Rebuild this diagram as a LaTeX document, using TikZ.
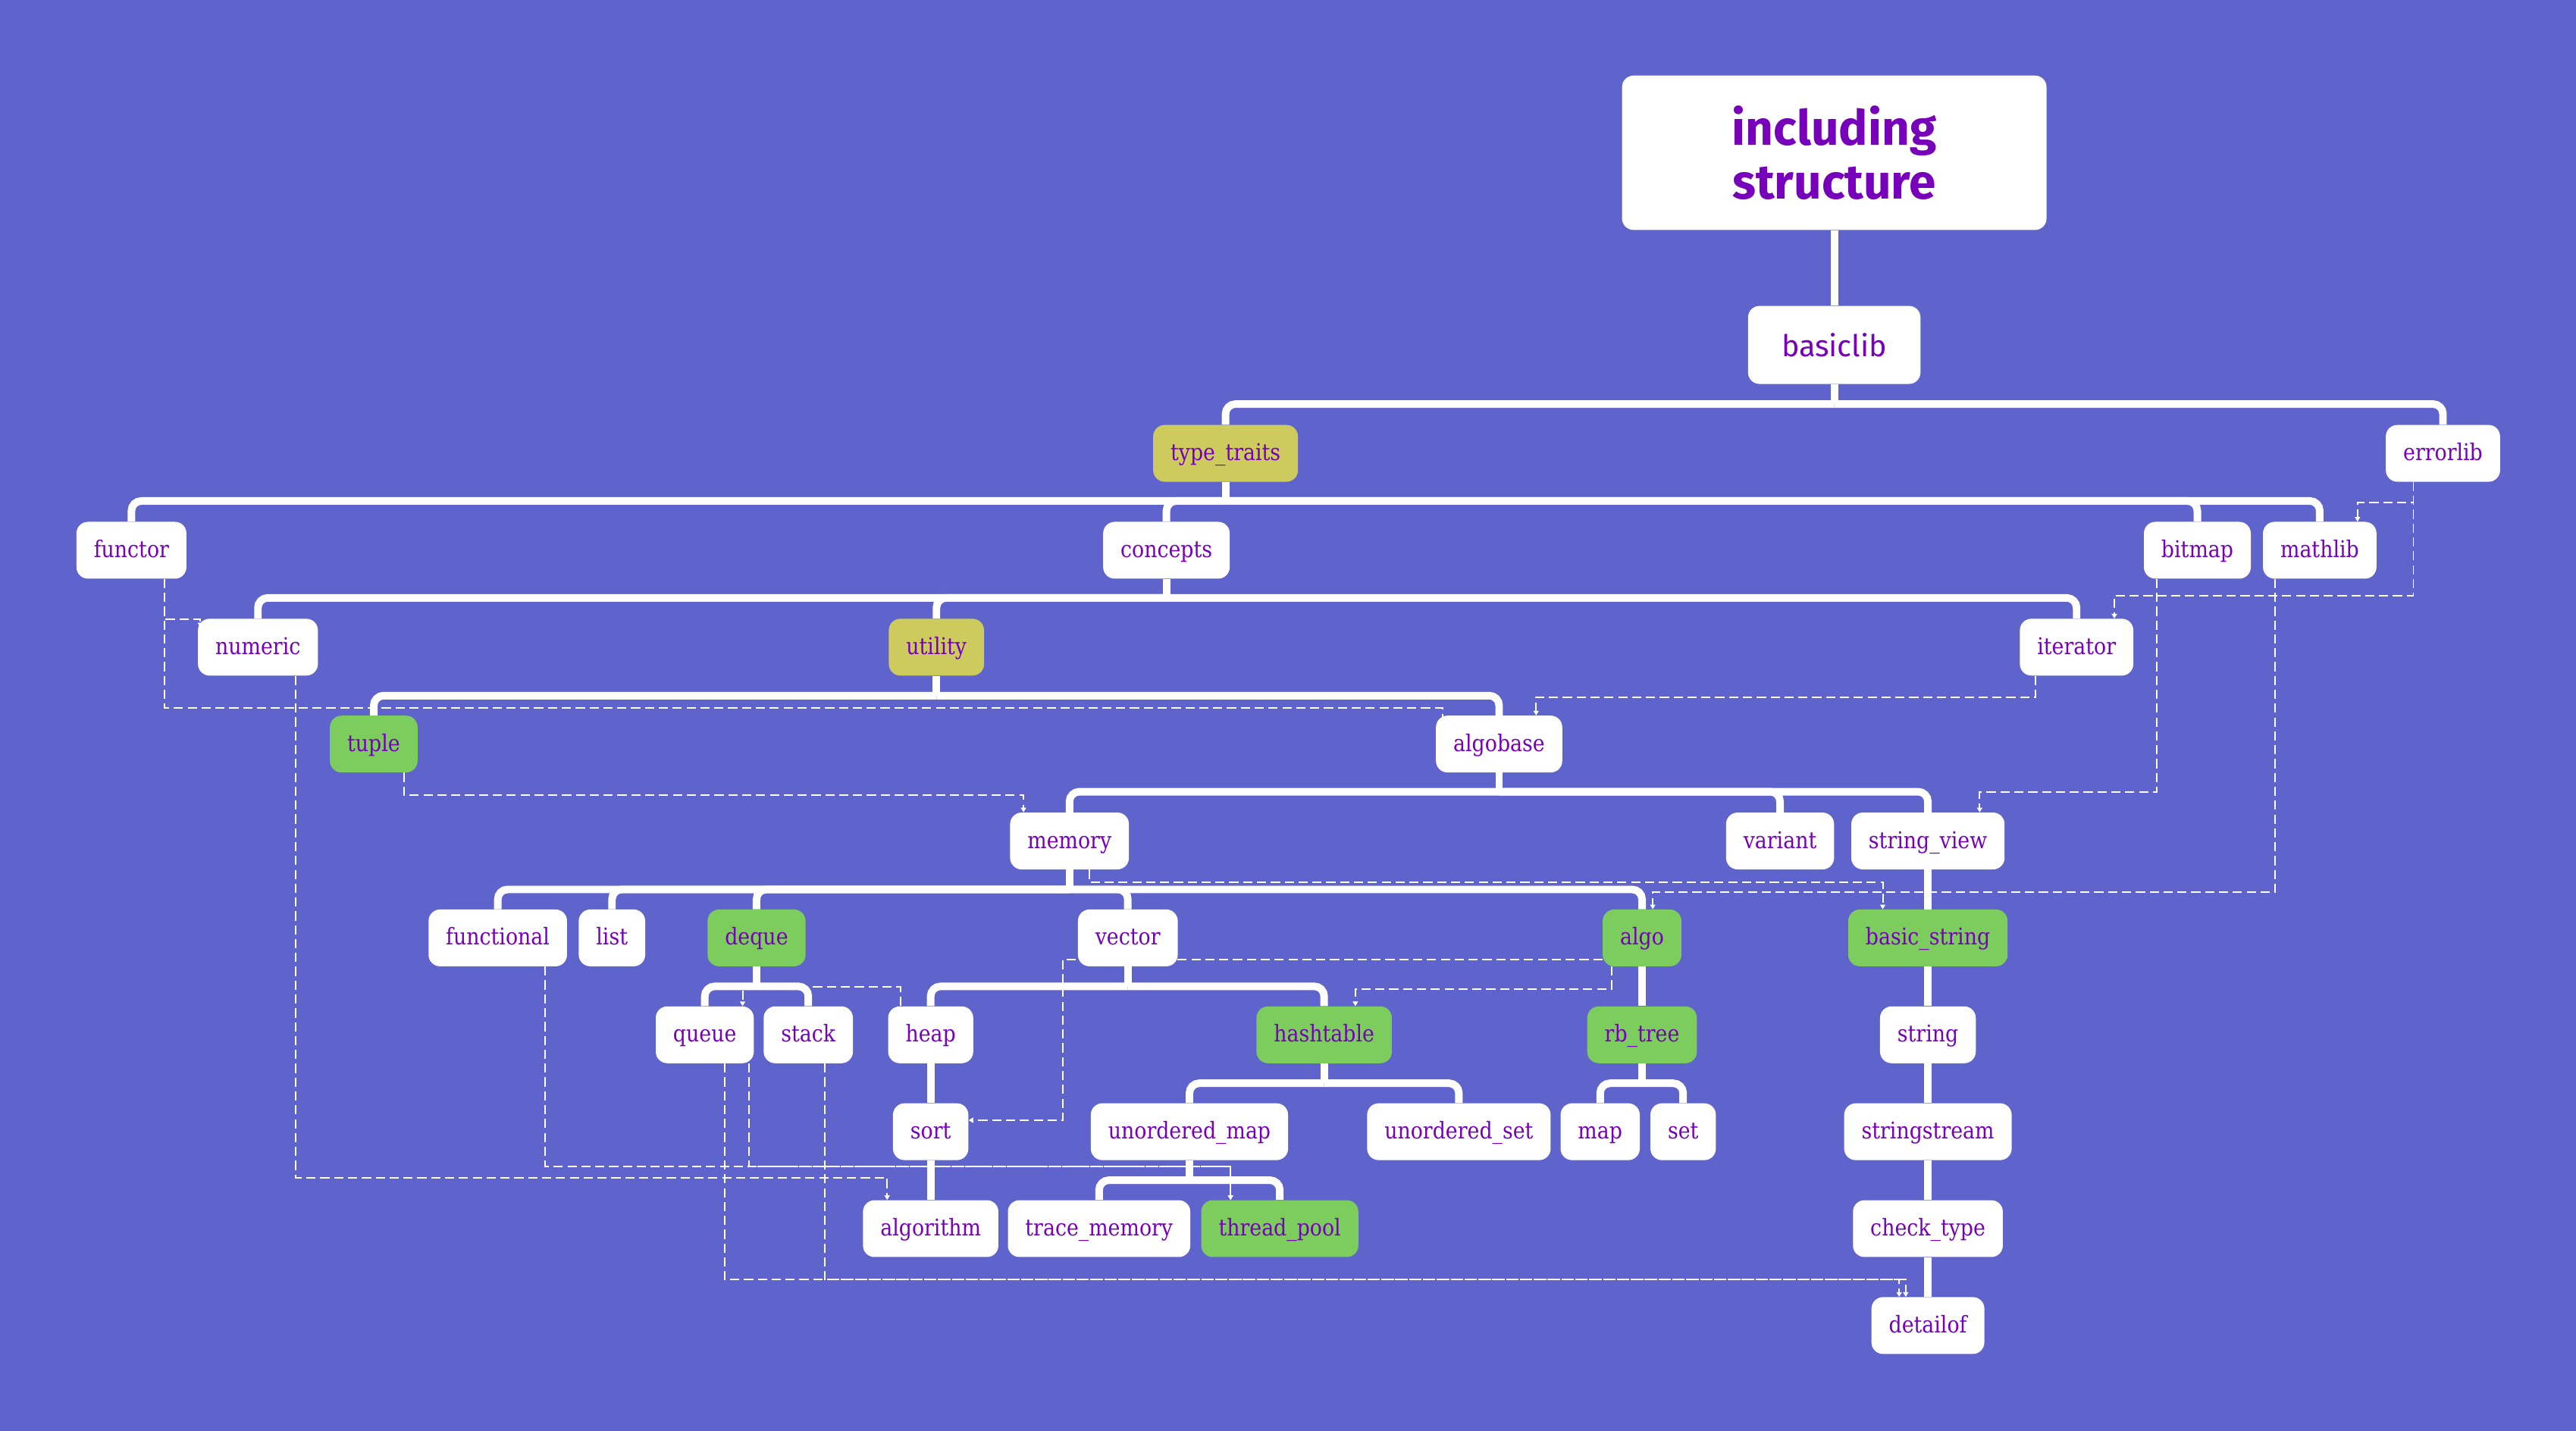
\documentclass[tikz,border=0pt]{standalone}
\usepackage{fontspec}
\usepackage{xcolor}
\usetikzlibrary{arrows.meta}

\newfontfamily\nodefont{DejaVu Serif}[FakeStretch=0.88]
\newfontfamily\titlefont{Fira Sans}

\definecolor{pagebg}{HTML}{5F63CC}
\definecolor{hdrtext}{HTML}{7700BB}
\definecolor{hdrgreen}{HTML}{7DCC5E}
\definecolor{hdryellow}{HTML}{CDCB5E}

\pgfdeclarelayer{bg}
\pgfdeclarelayer{links}
\pgfsetlayers{bg,links,main}

\tikzset{
  hdr/.style={rectangle, rounded corners=0.35cm, fill=white, text=hdrtext,
    minimum height=1.73cm, inner xsep=0.53cm, inner ysep=0pt,
    text height=16pt, text depth=3.6pt,
    font=\nodefont\fontsize{20}{24}\selectfont},
  hdrg/.style={hdr, fill=hdrgreen},
  hdry/.style={hdr, fill=hdryellow},
  topbox/.style={rectangle, rounded corners=0.35cm, fill=white, text=hdrtext,
    inner sep=0pt, align=center},
  tree/.style={draw=white, line width=0.23cm, rounded corners=0.3cm},
  dep/.style={draw=white, line width=1.3pt, dash pattern=on 8pt off 4pt,
    ->, >={Triangle[length=4pt,width=4.5pt]}},
}

\begin{document}
\begin{tikzpicture}[x=0.05cm, y=-0.05cm]
	\useasboundingbox (0,0) rectangle (1568,871);
	\begin{pgfonlayer}{bg}
		\fill[pagebg] (0,0) rectangle (1568,871);
	\end{pgfonlayer}

	% headers, row by row
	\node[topbox, minimum width=12.92cm, minimum height=4.7cm, font=\titlefont\bfseries\fontsize{42}{47}\selectfont] (title) at (1116.5,93) {including\\structure};
	\node[topbox, minimum width=5.25cm, minimum height=2.375cm, font=\titlefont\fontsize{26}{30}\selectfont] (basiclib) at (1116.5,210) {basiclib};

	\node[hdry] (typetraits) at (746,276) {type\_traits};
	\node[hdr] (errorlib) at (1487,276) {errorlib};

	\node[hdr] (functor) at (80,335) {functor};
	\node[hdr] (concepts) at (710,335) {concepts};
	\node[hdr] (bitmap) at (1337.5,335) {bitmap};
	\node[hdr] (mathlib) at (1412,335) {mathlib};

	\node[hdr] (numeric) at (157,394) {numeric};
	\node[hdry] (utility) at (570,394) {utility};
	\node[hdr] (iterator) at (1264,394) {iterator};

	\node[hdrg] (tuple) at (227.5,453) {tuple};
	\node[hdr] (algobase) at (912.5,453) {algobase};

	\node[hdr] (memory) at (651,512) {memory};
	\node[hdr] (variant) at (1083.5,512) {variant};
	\node[hdr] (strview) at (1173.5,512) {string\_view};

	\node[hdr] (functional) at (303,571) {functional};
	\node[hdr] (list) at (372.5,571) {list};
	\node[hdrg] (deque) at (460.5,571) {deque};
	\node[hdr] (vector) at (686.5,571) {vector};
	\node[hdrg] (algo) at (999.5,571) {algo};
	\node[hdrg] (basicstr) at (1173.5,571) {basic\_string};

	\node[hdr] (queue) at (429,630) {queue};
	\node[hdr] (stack) at (492,630) {stack};
	\node[hdr] (heap) at (566.5,630) {heap};
	\node[hdrg] (hashtable) at (806,630) {hashtable};
	\node[hdrg] (rbtree) at (999.5,630) {rb\_tree};
	\node[hdr] (string) at (1173.5,630) {string};

	\node[hdr] (sort) at (566.5,689) {sort};
	\node[hdr] (umap) at (724,689) {unordered\_map};
	\node[hdr] (uset) at (888,689) {unordered\_set};
	\node[hdr] (map) at (974,689) {map};
	\node[hdr] (set) at (1024.5,689) {set};
	\node[hdr] (sstream) at (1173.5,689) {stringstream};

	\node[hdr] (algorithm) at (566.5,748) {algorithm};
	\node[hdr] (tracemem) at (669,748) {trace\_memory};
	\node[hdrg] (threadpool) at (779,748) {thread\_pool};
	\node[hdr] (checktype) at (1173.5,748) {check\_type};

	\node[hdr] (detailof) at (1173.5,807) {detailof};

	% branch points under each parent
	\coordinate (j0) at (1116.5,246);
	\coordinate (j1) at (746,305);
	\coordinate (j2) at (710,364);
	\coordinate (j3) at (570,423.5);
	\coordinate (j4) at (912.5,482);
	\coordinate (j5) at (651,541.5);
	\coordinate (j6) at (460.5,600.5);
	\coordinate (j7) at (686.5,600.5);
	\coordinate (j8) at (806,659.5);
	\coordinate (j9) at (999.5,659.5);
	\coordinate (j10) at (724,718.5);

	\begin{pgfonlayer}{links}
		% include tree
		\draw[tree] (title) -- (basiclib);
		\draw[tree] (basiclib) -- (j0);
		\draw[tree] (j0) -| (typetraits);
		\draw[tree] (j0) -| (errorlib);

		\draw[tree] (typetraits) -- (j1);
		\draw[tree] (j1) -| (functor);
		\draw[tree] (j1) -| (concepts);
		\draw[tree] (j1) -| (bitmap);
		\draw[tree] (j1) -| (mathlib);

		\draw[tree] (concepts) -- (j2);
		\draw[tree] (j2) -| (numeric);
		\draw[tree] (j2) -| (utility);
		\draw[tree] (j2) -| (iterator);

		\draw[tree] (utility) -- (j3);
		\draw[tree] (j3) -| (tuple);
		\draw[tree] (j3) -| (algobase);

		\draw[tree] (algobase) -- (j4);
		\draw[tree] (j4) -| (memory);
		\draw[tree] (j4) -| (variant);
		\draw[tree] (j4) -| (strview);

		\draw[tree] (memory) -- (j5);
		\draw[tree] (j5) -| (functional);
		\draw[tree] (j5) -| (list);
		\draw[tree] (j5) -| (deque);
		\draw[tree] (j5) -| (vector);
		\draw[tree] (j5) -| (algo);

		\draw[tree] (deque) -- (j6);
		\draw[tree] (j6) -| (queue);
		\draw[tree] (j6) -| (stack);

		\draw[tree] (vector) -- (j7);
		\draw[tree] (j7) -| (heap);
		\draw[tree] (j7) -| (hashtable);

		\draw[tree] (hashtable) -- (j8);
		\draw[tree] (j8) -| (umap);
		\draw[tree] (j8) -| (uset);

		\draw[tree] (rbtree) -- (j9);
		\draw[tree] (j9) -| (map);
		\draw[tree] (j9) -| (set);

		\draw[tree] (umap) -- (j10);
		\draw[tree] (j10) -| (tracemem);
		\draw[tree] (j10) -| (threadpool);

		\draw[tree] (algo) -- (rbtree);
		\draw[tree] (heap) -- (sort) -- (algorithm);
		\draw[tree] (strview) -- (basicstr) -- (string) -- (sstream) -- (checktype) -- (detailof);

		% extra dependencies
		\draw[dep] (errorlib.south -| 1469,0) |- (1435,306) -- (mathlib.north -| 1435,0);
		\draw[dep] (errorlib.south -| 1469,0) |- (1287,362.5) -- (iterator.north -| 1287,0);
		\draw[dep] (iterator.south -| 1239,0) |- (935,424.5) -- (algobase.north -| 935,0);
		\draw[dep] (bitmap.south -| 1313,0) |- (1205,482) -- (strview.north -| 1205,0);
		\draw[dep] (mathlib.south -| 1385,0) |- (1006,543) -- (algo.north -| 1006,0);
		\draw[dep] (memory.south -| 663,0) |- (1146,537) -- (basicstr.north -| 1146,0);
		\draw[dep] (tuple.south -| 246,0) |- (623,484) -- (memory.north -| 623,0);
		\draw[dep] (functor.south -| 100,0) |- (122,377) -- (122,382);
		\draw[dep] (functor.south -| 100,0) |- (878,431) -- (878,441);
		\draw[dep] (numeric.south -| 180,0) |- (540,717) -- (algorithm.north -| 540,0);
		\draw[dep] (functional.south -| 332,0) |- (749,710) -- (threadpool.north -| 749,0);
		\draw[dep] (queue.south -| 456,0) |- (749,710) -- (threadpool.north -| 749,0);
		\draw[dep] (queue.south -| 441,0) |- (1156,779) -- (detailof.north -| 1156,0);
		\draw[dep] (stack.south -| 502,0) |- (1160,779) -- (detailof.north -| 1160,0);
		\draw[dep] (heap.north -| 548,0) |- (452,601) -- (queue.north -| 452,0);
		\draw[dep] (algo.west |- 0,584) -- (647,584) |- (sort.east |- 0,682);
		\draw[dep] (algo.south -| 981,0) |- (825,602) -- (hashtable.north -| 825,0);
	\end{pgfonlayer}
\end{tikzpicture}
\end{document}
